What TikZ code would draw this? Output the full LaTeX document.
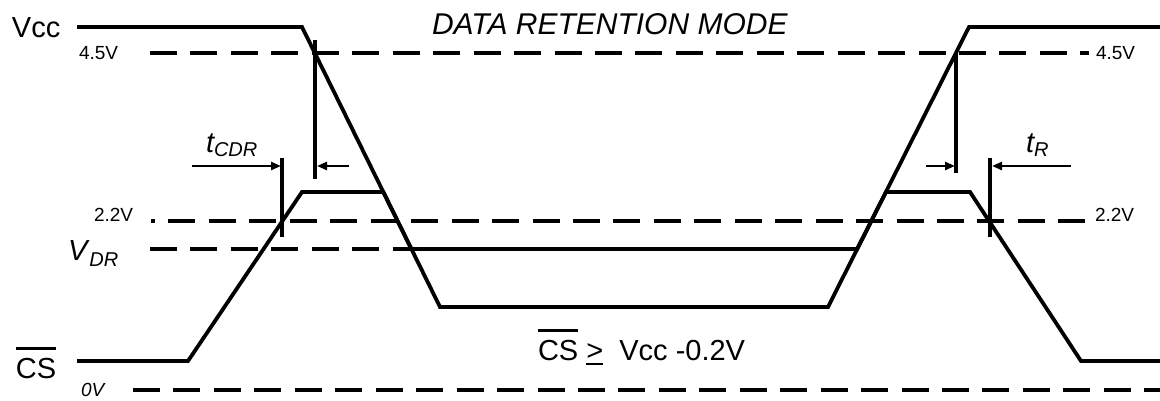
\documentclass[tikz,border=0pt]{standalone}
\usepackage{fontspec}
\setmainfont{Liberation Sans}
\usetikzlibrary{arrows.meta}
\newsavebox{\mybarbox}
\newcommand{\olbar}[1]{\sbox{\mybarbox}{#1}\rlap{\raisebox{28pt}{\rule{\wd\mybarbox}{2.6pt}}}\usebox{\mybarbox}}
\newcommand{\ulbar}[1]{\sbox{\mybarbox}{#1}\rlap{\raisebox{-5pt}{\rule{\wd\mybarbox}{2pt}}}\usebox{\mybarbox}}
\begin{document}
\begin{tikzpicture}[x=1pt,y=-1pt,
  wave/.style={line width=3.8pt},
  level/.style={line width=4.4pt, dash pattern=on 27pt off 13.45pt},
  marker/.style={line width=3.3pt},
  timearrow/.style={line width=2.6pt, -{Triangle[length=10pt,width=8pt]}},
  lbl/.style={inner sep=0pt, outer sep=0pt, anchor=base west},
  big/.style={lbl, font=\fontsize{29}{32}\selectfont},
  small/.style={lbl, font=\fontsize{19}{21}\selectfont}]
\useasboundingbox (0,0) rectangle (1160,400);

% reference levels
\draw[level] (150,53) -- (1089,53);
\draw[level, dash phase=23pt] (151,221) -- (1085,221);
\draw[level] (150,249) -- (412,249);
\draw[level] (133,390) -- (1160,390);

% Vcc waveform
\draw[wave] (77,27) -- (302,27) -- (440,307) -- (828,307) -- (969,27) -- (1160,27);
% CS waveform
\draw[wave] (77,361) -- (188,361) -- (302,192) -- (383.3,192) -- (411.4,249)
  -- (857.2,249) -- (885.9,192) -- (970,192) -- (1081,361) -- (1160,361);

% timing markers
\coordinate (m1a) at (282,158); \coordinate (m1b) at (282,237);
\coordinate (m2a) at (315,40);  \coordinate (m2b) at (315,179);
\coordinate (m3a) at (956,53);  \coordinate (m3b) at (956,173);
\coordinate (m4a) at (990,158); \coordinate (m4b) at (990,237);
\draw[marker] (m1a) -- (m1b);
\draw[marker] (m2a) -- (m2b);
\draw[marker] (m3a) -- (m3b);
\draw[marker] (m4a) -- (m4b);

\coordinate (a1) at (192,166); \coordinate (e1) at (281,166);
\coordinate (a2) at (349,166); \coordinate (e2) at (317,166);
\coordinate (a3) at (926,166); \coordinate (e3) at (955,166);
\coordinate (a4) at (1071,166); \coordinate (e4) at (992,166);
\draw[timearrow] (a1) -- (e1);
\draw[timearrow] (a2) -- (e2);
\draw[timearrow] (a3) -- (e3);
\draw[timearrow] (a4) -- (e4);

% labels
\node[big] (vcc) at (12,37) {Vcc};
\node[small] (l45a) at (79,59) {4.5V};
\node[small] (l45b) at (1096,59) {4.5V};
\node[small] (l22a) at (94,221) {2.2V};
\node[small] (l22b) at (1095,221) {2.2V};
\node[lbl, font=\fontsize{30}{32}\selectfont\itshape] (mode) at (432,34) {DATA RETENTION MODE};
\node[big, font=\fontsize{29}{32}\selectfont\itshape] (vdr) at (68,260)
  {V\hspace{2pt}\raisebox{-6pt}{\fontsize{20}{22}\selectfont DR}};
\node[big, font=\fontsize{29}{32}\selectfont\itshape] (tcdr) at (206,152)
  {t\raisebox{-4pt}{\fontsize{20}{22}\selectfont CDR}};
\node[big, font=\fontsize{29}{32}\selectfont\itshape] (tr) at (1026,152)
  {t\raisebox{-4pt}{\fontsize{20}{22}\selectfont R}};
\node[big] (csl) at (16,378) {\olbar{CS}};
\node[small, font=\fontsize{19}{21}\selectfont\itshape] (zero) at (81,396) {0V};
\node[big] (cond) at (538,360) {\olbar{CS} \ulbar{>}\ \ Vcc -0.2V};
\end{tikzpicture}
\end{document}
